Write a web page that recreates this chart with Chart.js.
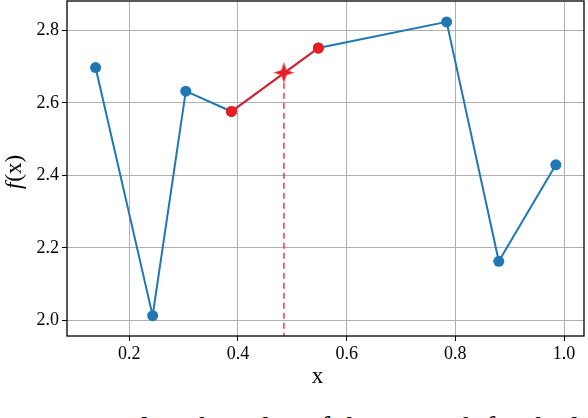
<!DOCTYPE html>
<html><head><meta charset="utf-8">
<script src="https://cdn.jsdelivr.net/npm/chart.js@4/dist/chart.umd.min.js"></script>
<style>
html,body{margin:0;padding:0;background:#fff;overflow:hidden;width:588px;height:418px;}
#wrap{position:absolute;left:0;top:0;width:588px;height:392px;}
#cap{position:absolute;left:17px;top:413px;font-family:"Liberation Serif",serif;font-size:29px;line-height:29px;word-spacing:1px;white-space:nowrap;color:#000;}
</style></head><body>
<div id="wrap"><canvas id="c"></canvas></div>
<div id="cap">we interpolate the value of the network for the l</div>
<script>
// ---- data ----
const xValues = [0.138, 0.243, 0.304, 0.388, 0.548, 0.784, 0.880, 0.985];
const yValues = [2.697, 2.013, 2.632, 2.576, 2.751, 2.823, 2.163, 2.429];
const segX = [0.388, 0.548];
const segY = [2.576, 2.751];
const starX = [0.4846];
const starY = [2.683];
const xTicks = [0.2, 0.4, 0.6, 0.8, 1.0];
const yTicks = [2.0, 2.2, 2.4, 2.6, 2.8];
const xRange = [0.0854, 1.0368];
const yRange = [1.957, 2.8806];
const xTitle = 'x';
const yTitleItalic = 'f';
const yTitleRest = '(x)';

const BLUE = '#1f77b4';
const RED = '#ec1c24';
const FONT = '"Liberation Serif", serif';
Chart.defaults.font.family = FONT;

const pts = (xs, ys) => xs.map((x, i) => ({x: x, y: ys[i]}));

// 4-point star marker
function makeStar(R, r, color) {
  const s = Math.ceil(R * 2 + 2);
  const cv = document.createElement('canvas');
  cv.width = s; cv.height = s;
  const g = cv.getContext('2d');
  g.translate(s / 2, s / 2);
  g.beginPath();
  for (let i = 0; i < 8; i++) {
    const a = -Math.PI / 2 + i * Math.PI / 4;
    const rr = (i % 2 === 0) ? R : r;
    const px = rr * Math.cos(a), py = rr * Math.sin(a);
    if (i === 0) g.moveTo(px, py); else g.lineTo(px, py);
  }
  g.closePath();
  g.fillStyle = color;
  g.fill();
  return cv;
}
const starImg = makeStar(10.5, 3.6, RED);

const framePlugin = {
  id: 'frame',
  afterDraw(chart) {
    const {ctx, chartArea: a} = chart;
    ctx.save();
    ctx.strokeStyle = '#000';
    ctx.lineWidth = 1.3;
    ctx.strokeRect(a.left, a.top, a.right - a.left, a.bottom - a.top);
    ctx.fillStyle = '#000';
    // x title
    ctx.font = '23px ' + FONT;
    ctx.textAlign = 'center';
    ctx.textBaseline = 'alphabetic';
    ctx.fillText(xTitle, 317.5, 383);
    // y title with italic f
    ctx.textBaseline = 'middle';
    ctx.font = 'italic 23px ' + FONT;
    const w1 = ctx.measureText(yTitleItalic).width;
    ctx.font = '23px ' + FONT;
    const w2 = ctx.measureText(yTitleRest).width;
    ctx.translate(15, 172);
    ctx.rotate(-Math.PI / 2);
    const x0 = -(w1 + w2 + 1) / 2;
    ctx.font = 'italic 23px ' + FONT;
    ctx.textAlign = 'left';
    ctx.fillText(yTitleItalic, x0, 0);
    ctx.font = '23px ' + FONT;
    ctx.fillText(yTitleRest, x0 + w1 + 1, 0);
    ctx.restore();
  }
};

new Chart(document.getElementById('c'), {
  type: 'scatter',
  data: {
    datasets: [
      {
        label: 'star', data: pts(starX, starY), showLine: false,
        pointStyle: starImg, pointRadius: 10, order: 0
      },
      {
        label: 'interp', data: pts(segX, segY), showLine: true,
        borderColor: RED, backgroundColor: RED, borderWidth: 2,
        pointRadius: 5.5, pointBorderWidth: 0, order: 1
      },
      {
        label: 'dashed', data: [{x: starX[0], y: starY[0]}, {x: starX[0], y: yRange[0]}],
        showLine: true, borderColor: RED, borderWidth: 1.3, borderDash: [6, 4],
        pointRadius: 0, order: 2
      },
      {
        label: 'f', data: pts(xValues, yValues), showLine: true,
        borderColor: BLUE, backgroundColor: BLUE, borderWidth: 2,
        pointRadius: 5.5, pointBorderWidth: 0, order: 3
      }
    ]
  },
  options: {
    responsive: true,
    maintainAspectRatio: false,
    animation: false,
    layout: {autoPadding: false, padding: {left: 0, right: 4, top: 1, bottom: 0}},
    plugins: {legend: {display: false}, tooltip: {enabled: false}},
    scales: {
      x: {
        type: 'linear', min: xRange[0], max: xRange[1],
        afterBuildTicks: s => { s.ticks = xTicks.map(v => ({value: v})); },
        afterFit: s => { s.height = 56; s.paddingLeft = 0; s.paddingRight = 0; },
        grid: {color: '#b0b0b0', lineWidth: 1, tickColor: '#000', tickLength: 5, drawTicks: true},
        border: {display: false},
        ticks: {color: '#000', font: {family: FONT, size: 18}, padding: 2, maxRotation: 0,
                callback: v => Number(v).toFixed(1)},
        title: {display: false}
      },
      y: {
        type: 'linear', min: yRange[0], max: yRange[1],
        afterBuildTicks: s => { s.ticks = yTicks.map(v => ({value: v})); },
        afterFit: s => { s.width = 67; s.paddingTop = 0; s.paddingBottom = 0; },
        grid: {color: '#b0b0b0', lineWidth: 1, tickColor: '#000', tickLength: 5, drawTicks: true},
        border: {display: false},
        ticks: {color: '#000', font: {family: FONT, size: 18}, padding: 3,
                callback: v => Number(v).toFixed(1)}
      }
    }
  },
  plugins: [framePlugin]
});
</script>
</body></html>
